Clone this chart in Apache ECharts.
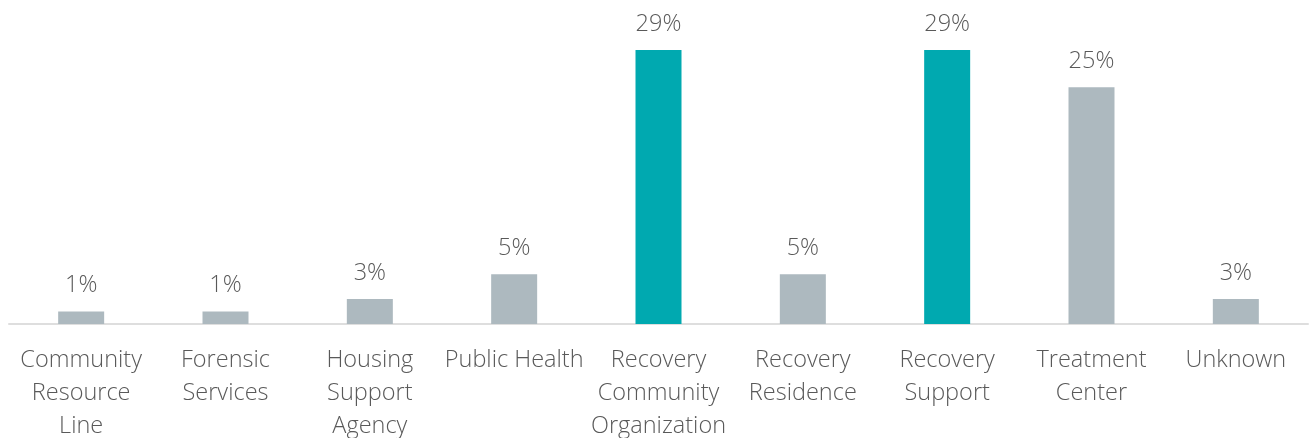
<!DOCTYPE html>
<html><head><meta charset="utf-8">
<script src="https://cdn.jsdelivr.net/npm/echarts@6/dist/echarts.min.js"></script>
<style>html,body{margin:0;padding:0;background:#fff}#c{width:1310px;height:438px}</style>
</head><body><div id="c"></div>
<script>
const categories = ["Community\nResource\nLine","Forensic\nServices","Housing\nSupport\nAgency","Public Health","Recovery\nCommunity\nOrganization","Recovery\nResidence","Recovery\nSupport","Treatment\nCenter","Unknown"];
const values = [1.3, 1.3, 2.6, 5.2, 28.6, 5.2, 28.6, 24.7, 2.6];
const highlighted = [false,false,false,false,true,false,true,false,false];
const GRAY = '#adb9bf', TEAL = '#00a9b0', TEXT = '#595959';
const chart = echarts.init(document.getElementById('c'), null, {renderer:'canvas'});
chart.setOption({
  animation:false,
  grid:{left:9, right:2, top:36.6, bottom:114, containLabel:false, outerBoundsMode:'none'},
  xAxis:{type:'category', data:categories,
    axisLine:{lineStyle:{color:'#dedede', width:2}}, axisTick:{show:false},
    axisLabel:{interval:0, color:TEXT, fontFamily:'Open Sans', fontWeight:300, fontSize:23.5, lineHeight:33, margin:20}},
  yAxis:{type:'value', min:0, max:30, show:false, splitLine:{show:false}},
  series:[{type:'bar', barWidth:46,
    data: values.map((v,i)=>({value:v, itemStyle:{color: highlighted[i]?TEAL:GRAY}})),
    label:{show:true, position:'top', distance:14, color:TEXT, fontFamily:'Open Sans', fontWeight:300, fontSize:23.5,
      formatter: p => Math.round(p.value)+'%'}}]
});
</script></body></html>
